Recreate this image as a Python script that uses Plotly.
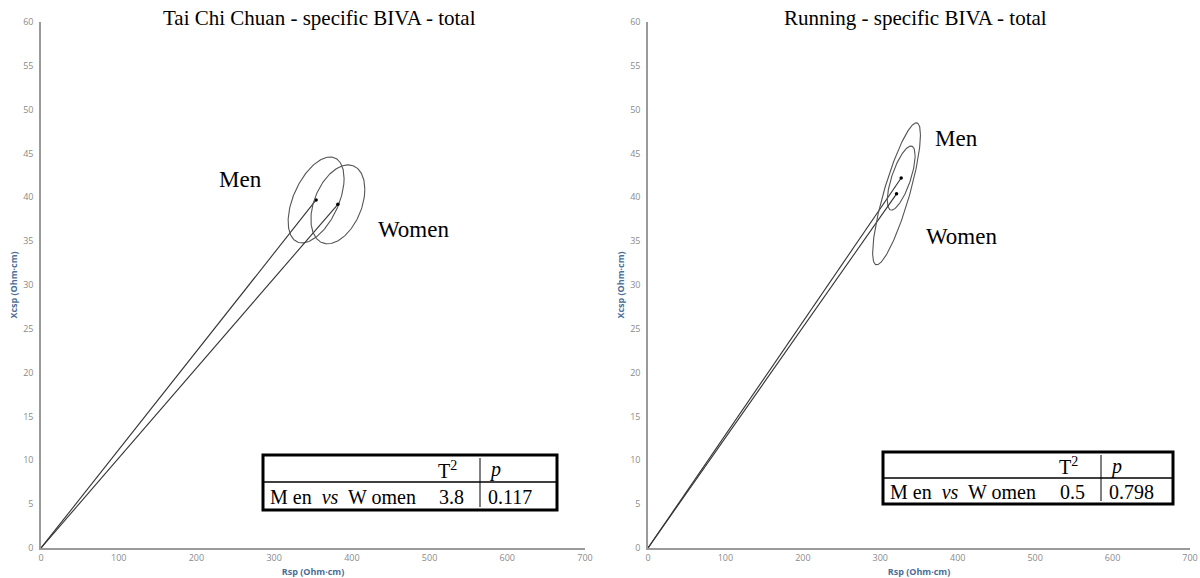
import numpy as np
import plotly.graph_objects as go

W, H = 1200, 578

# ---- data ----
panels = ["Tai Chi Chuan - specific BIVA - total", "Running - specific BIVA - total"]
groups = ["Men", "Women"]
# mean Rsp, Xcsp per group, per panel
mean_rsp = [[354, 382], [327, 321]]
mean_xcsp = [[39.7, 39.2], [42.2, 40.4]]
# 95% confidence ellipse: half-width (Rsp), half-height (Xcsp), correlation
ell_hx = [[36, 34.7], [18, 30.9]]
ell_hy = [[4.9, 4.5], [3.65, 8.1]]
ell_rho = [[0.5, 0.38], [0.7, 0.83]]
# group label positions (data units)
lab_x = [[257, 479], [399, 405]]
lab_y = [[42.0, 36.3], [46.7, 35.5]]
T2 = ["3.8", "0.5"]
pvals = ["0.117", "0.798"]
x_ticks = [0, 100, 200, 300, 400, 500, 600, 700]
y_ticks = list(range(0, 61, 5))

fig = go.Figure()

ax_names = [("x", "y"), ("x2", "y2")]
for pi in range(2):
    xa, ya = ax_names[pi]
    for gi in range(2):
        cx, cy = mean_rsp[pi][gi], mean_xcsp[pi][gi]
        # vector from origin
        fig.add_trace(go.Scatter(x=[0, cx], y=[0, cy], mode="lines",
                                 line=dict(color="#333333", width=1.1),
                                 xaxis=xa, yaxis=ya, showlegend=False, hoverinfo="skip"))
        t = np.linspace(0, 2 * np.pi, 200)
        r = ell_rho[pi][gi]
        ex = cx + ell_hx[pi][gi] * np.cos(t)
        ey = cy + ell_hy[pi][gi] * (r * np.cos(t) + np.sqrt(1 - r * r) * np.sin(t))
        fig.add_trace(go.Scatter(x=ex, y=ey, mode="lines",
                                 line=dict(color="#555555", width=1.1),
                                 xaxis=xa, yaxis=ya, showlegend=False, hoverinfo="skip"))
        fig.add_trace(go.Scatter(x=[cx], y=[cy], mode="markers",
                                 marker=dict(color="#000000", size=3.5),
                                 xaxis=xa, yaxis=ya, showlegend=False, hoverinfo="skip"))
        fig.add_annotation(x=lab_x[pi][gi], y=lab_y[pi][gi], xref=xa, yref=ya,
                           text=groups[gi], showarrow=False,
                           font=dict(family="Liberation Serif", size=23, color="#000000"))

# domains (pixels)
xdom = [(41, 585), (648, 1190)]
ytop, ybot = 22, 548

axis_common = dict(showgrid=False, zeroline=False, showline=True, linecolor="#9a9a9a",
                   ticks="", tickfont=dict(family="Open Sans", size=9, color="#8a8a8a"),
                   automargin=False)
title_font = dict(family="Open Sans", size=9, color="#4a6e9a")

for pi in range(2):
    sx = "" if pi == 0 else "2"
    fig.layout["xaxis" + sx] = dict(axis_common, domain=[xdom[pi][0] / W, xdom[pi][1] / W],
                                    range=[0, 700], tickvals=x_ticks, linewidth=2,
                                    anchor="y" + sx,
                                    title=dict(text="<b>Rsp (Ohm·cm)</b>", font=title_font, standoff=6))
    fig.layout["yaxis" + sx] = dict(axis_common, domain=[(H - ybot) / H, (H - ytop) / H],
                                    range=[0, 60], tickvals=y_ticks, linewidth=1.5,
                                    anchor="x" + sx, ticklabelstandoff=4,
                                    title=dict(text="<b>Xcsp (Ohm·cm)</b>", font=title_font, standoff=4))

# titles
title_cx = [319, 915]
for pi in range(2):
    fig.add_annotation(x=title_cx[pi] / W, y=1 - 18 / H, xref="paper", yref="paper",
                       text=panels[pi], showarrow=False, xanchor="center", yanchor="middle",
                       font=dict(family="Liberation Serif", size=21, color="#000000"))

# statistics tables (pixel layout)
tables = [dict(x0=263, x1=557, y0=455, y1=510, ym=482, xv=480),
          dict(x0=883, x1=1173, y0=452, y1=504, ym=478, xv=1101)]
serif = dict(family="Liberation Serif", size=20, color="#000000")
for pi, tb in enumerate(tables):
    px = lambda v: v / W
    py = lambda v: 1 - v / H
    fig.add_shape(type="rect", xref="paper", yref="paper",
                  x0=px(tb["x0"]), x1=px(tb["x1"]), y0=py(tb["y0"]), y1=py(tb["y1"]),
                  line=dict(color="#000000", width=3), fillcolor="white", layer="above")
    fig.add_shape(type="line", xref="paper", yref="paper",
                  x0=px(tb["x0"]), x1=px(tb["x1"]), y0=py(tb["ym"]), y1=py(tb["ym"]),
                  line=dict(color="#000000", width=1.3))
    fig.add_shape(type="line", xref="paper", yref="paper",
                  x0=px(tb["xv"]), x1=px(tb["xv"]), y0=py(tb["y0"] + 3), y1=py(tb["y1"] - 3),
                  line=dict(color="#000000", width=1))
    r1 = (tb["y0"] + tb["ym"]) / 2 + 1
    r2 = (tb["ym"] + tb["y1"]) / 2 + 1
    fig.add_annotation(x=px(tb["xv"] - 21), y=py(r1), xref="paper", yref="paper",
                       text="T<sup>2</sup>", showarrow=False, xanchor="right", yanchor="middle",
                       font=serif)
    fig.add_annotation(x=px(tb["xv"] + 7), y=py(r1), xref="paper", yref="paper",
                       text="<i>p</i>", showarrow=False, xanchor="left", yanchor="middle",
                       font=serif)
    fig.add_annotation(x=px(tb["x0"] + 5), y=py(r2), xref="paper", yref="paper",
                       text="M en  <i>vs</i>  W omen", showarrow=False, xanchor="left",
                       yanchor="middle", font=serif)
    fig.add_annotation(x=px(tb["xv"] - 14), y=py(r2), xref="paper", yref="paper",
                       text=T2[pi], showarrow=False, xanchor="right", yanchor="middle",
                       font=serif)
    fig.add_annotation(x=px(tb["xv"] + 6), y=py(r2), xref="paper", yref="paper",
                       text=pvals[pi], showarrow=False, xanchor="left", yanchor="middle",
                       font=serif)

fig.update_layout(width=W, height=H, margin=dict(l=0, r=0, t=0, b=0),
                  paper_bgcolor="white", plot_bgcolor="white", showlegend=False)

fig.write_html("out.html")
